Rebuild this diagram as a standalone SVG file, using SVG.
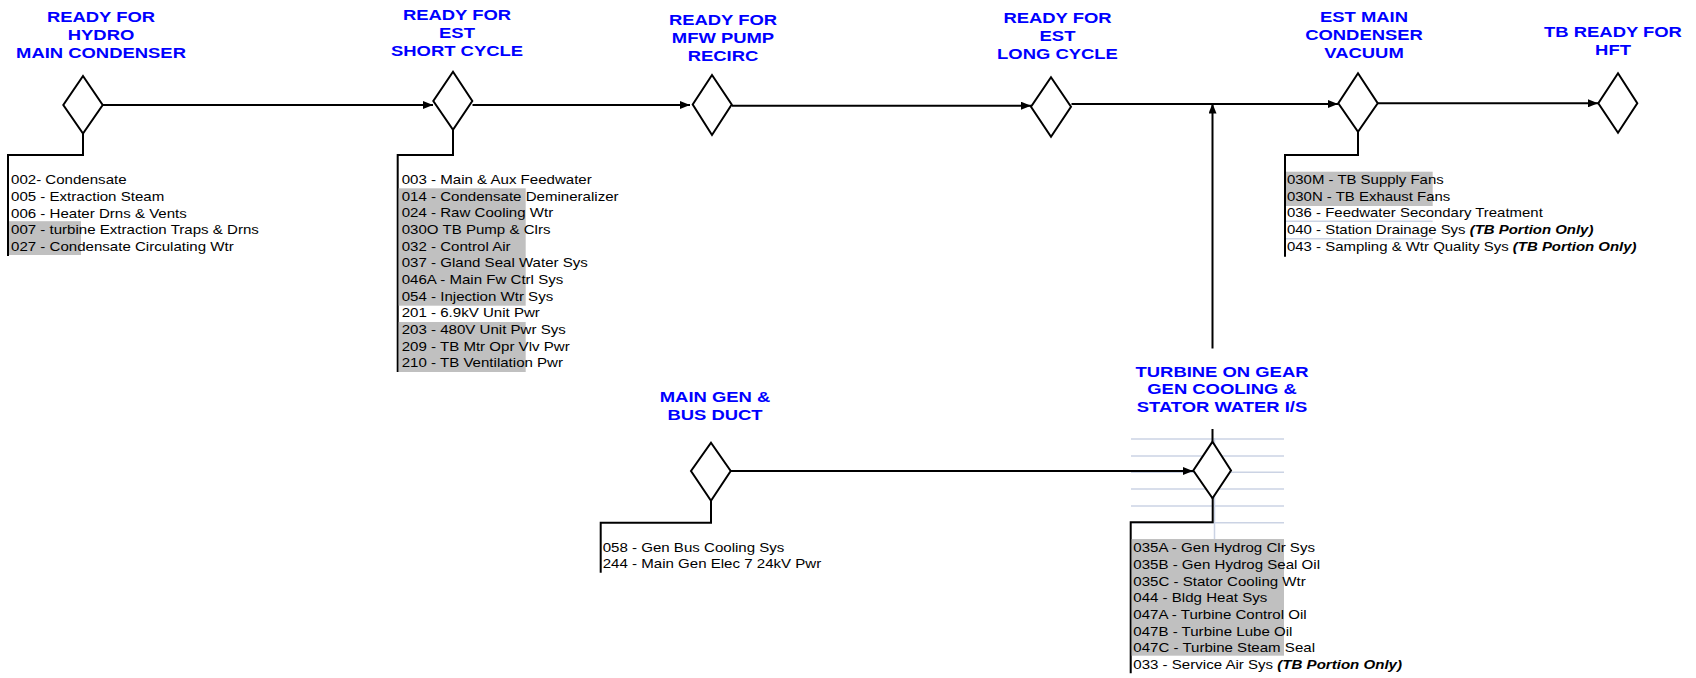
<svg xmlns="http://www.w3.org/2000/svg" width="1696" height="678" viewBox="0 0 1696 678">
<style>
.ttl{font-family:"Liberation Sans",Arial,sans-serif;font-weight:bold;font-size:15.5px;fill:#0000ff;text-anchor:middle}
.lst{font-family:"Liberation Sans",Arial,sans-serif;font-size:13px;fill:#000}
.bi{font-weight:bold;font-style:italic}
.dia{fill:#fff;stroke:#000;stroke-width:2;stroke-linejoin:miter}
.ln{fill:none;stroke:#000;stroke-width:2}
.cell{fill:#c0c0c0}
.grid{stroke:#cbd3e4;stroke-width:1.5}
</style>
<defs>
<marker id="arr" markerWidth="10" markerHeight="8" refX="10" refY="4" orient="auto" markerUnits="userSpaceOnUse"><path d="M0,0 L10,4 L0,8 z" fill="#000"/></marker>
</defs>
<rect x="0" y="0" width="1696" height="678" fill="#fff"/>

<g id="gridlines">
<line class="grid" x1="1286" y1="221.3" x2="1432.7" y2="221.3"/>
<line class="grid" x1="1286" y1="238.7" x2="1432.7" y2="238.7"/>
<line class="grid" x1="1131" y1="439" x2="1284" y2="439"/>
<line class="grid" x1="1131" y1="456" x2="1284" y2="456"/>
<line class="grid" x1="1131" y1="472.3" x2="1284" y2="472.3"/>
<line class="grid" x1="1131" y1="489" x2="1284" y2="489"/>
<line class="grid" x1="1131" y1="506" x2="1284" y2="506"/>
<line class="grid" x1="1131" y1="522.7" x2="1284" y2="522.7"/>
<line class="grid" x1="1214.5" y1="438" x2="1214.5" y2="539"/>
</g>

<g id="connectors">
<path class="ln" d="M103,105 H433" marker-end="url(#arr)"/>
<path class="ln" d="M472.5,105 H690" marker-end="url(#arr)"/>
<path class="ln" d="M732,105.7 H1031" marker-end="url(#arr)"/>
<path class="ln" d="M1071.5,104 H1338" marker-end="url(#arr)"/>
<path class="ln" d="M1378,103.3 H1598" marker-end="url(#arr)"/>
<path class="ln" d="M731,471 H1193" marker-end="url(#arr)"/>
<path class="ln" d="M1212.5,441.7 V103.5" marker-end="url(#arr)"/>
<path class="ln" d="M83,133.5 V155 H8 V256"/>
<path class="ln" d="M453,130 V155 H397.7 V372"/>
<path class="ln" d="M711,501 V522.7 H600.7 V572.7"/>
<path class="ln" d="M1358,132 V155 H1285 V256.7"/>
<path class="ln" d="M1212.7,498 V522.3 H1130.7 V673.3"/>
</g>

<g id="node-hydro">
<g transform="translate(101,0) scale(1.19,1)">
<text class="ttl" x="0" y="21.7">READY FOR</text>
<text class="ttl" x="0" y="40">HYDRO</text>
<text class="ttl" x="0" y="57.7">MAIN CONDENSER</text>
</g>
<polygon class="dia" points="83,76 102.7,105 83,133.5 63.3,105"/>
<rect class="cell" x="9" y="221.2" width="72" height="33.8"/>
<g transform="translate(11,0) scale(1.16,1)">
<text class="lst" x="0" y="184.3">002- Condensate</text>
<text class="lst" x="0" y="201">005 - Extraction Steam</text>
<text class="lst" x="0" y="217.6">006 - Heater Drns &amp; Vents</text>
<text class="lst" x="0" y="234.2">007 - turbine Extraction Traps &amp; Drns</text>
<text class="lst" x="0" y="250.8">027 - Condensate Circulating Wtr</text>
</g>
</g>

<g id="node-short-cycle">
<g transform="translate(457,0) scale(1.19,1)">
<text class="ttl" x="0" y="20">READY FOR</text>
<text class="ttl" x="0" y="37.8">EST</text>
<text class="ttl" x="0" y="56">SHORT CYCLE</text>
</g>
<polygon class="dia" points="453,71.7 472.3,101 453,129.8 433.3,101"/>
<rect class="cell" x="398.7" y="188.3" width="127" height="117.4"/>
<rect class="cell" x="398.7" y="322" width="127" height="50"/>
<g transform="translate(401.7,0) scale(1.16,1)">
<text class="lst" x="0" y="184">003 - Main &amp; Aux Feedwater</text>
<text class="lst" x="0" y="200.7">014 - Condensate Demineralizer</text>
<text class="lst" x="0" y="217.3">024 - Raw Cooling Wtr</text>
<text class="lst" x="0" y="234">030O TB Pump &amp; Clrs</text>
<text class="lst" x="0" y="250.6">032 - Control Air</text>
<text class="lst" x="0" y="267.3">037 - Gland Seal Water Sys</text>
<text class="lst" x="0" y="284">046A - Main Fw Ctrl Sys</text>
<text class="lst" x="0" y="300.6">054 - Injection Wtr Sys</text>
<text class="lst" x="0" y="317.3">201 - 6.9kV Unit Pwr</text>
<text class="lst" x="0" y="334">203 - 480V Unit Pwr Sys</text>
<text class="lst" x="0" y="350.6">209 - TB Mtr Opr Vlv Pwr</text>
<text class="lst" x="0" y="367.3">210 - TB Ventilation Pwr</text>
</g>
</g>

<g id="node-mfw-pump">
<g transform="translate(723,0) scale(1.19,1)">
<text class="ttl" x="0" y="25">READY FOR</text>
<text class="ttl" x="0" y="43">MFW PUMP</text>
<text class="ttl" x="0" y="61.3">RECIRC</text>
</g>
<polygon class="dia" points="712,75 731.7,104.5 712,135 692.7,104.5"/>
</g>

<g id="node-long-cycle">
<g transform="translate(1057.5,0) scale(1.19,1)">
<text class="ttl" x="0" y="22.7">READY FOR</text>
<text class="ttl" x="0" y="40.7">EST</text>
<text class="ttl" x="0" y="59">LONG CYCLE</text>
</g>
<polygon class="dia" points="1051,77.3 1071,106.8 1051,136.7 1031,106.8"/>
</g>

<g id="node-vacuum">
<g transform="translate(1364,0) scale(1.19,1)">
<text class="ttl" x="0" y="21.7">EST MAIN</text>
<text class="ttl" x="0" y="40">CONDENSER</text>
<text class="ttl" x="0" y="57.7">VACUUM</text>
</g>
<polygon class="dia" points="1358,73.3 1377.7,103.3 1358,131.7 1338.3,103.3"/>
<rect class="cell" x="1286" y="171.7" width="146.7" height="34.3"/>
<g transform="translate(1287,0) scale(1.15,1)">
<text class="lst" x="0" y="184">030M - TB Supply Fans</text>
<text class="lst" x="0" y="200.7">030N - TB Exhaust Fans</text>
<text class="lst" x="0" y="217.3">036 - Feedwater Secondary Treatment</text>
<text class="lst" x="0" y="234.5">040 - Station Drainage Sys <tspan class="bi">(TB Portion Only)</tspan></text>
<text class="lst" x="0" y="251.2">043 - Sampling &amp; Wtr Quality Sys <tspan class="bi">(TB Portion Only)</tspan></text>
</g>
</g>

<g id="node-hft">
<g transform="translate(1613,0) scale(1.19,1)">
<text class="ttl" x="0" y="36.7">TB READY FOR</text>
<text class="ttl" x="0" y="55">HFT</text>
</g>
<polygon class="dia" points="1618,73.3 1637.3,103.3 1618,132.7 1598.3,103.3"/>
</g>

<g id="node-main-gen">
<g transform="translate(715,0) scale(1.19,1)">
<text class="ttl" x="0" y="402.3">MAIN GEN &amp;</text>
<text class="ttl" x="0" y="420">BUS DUCT</text>
</g>
<polygon class="dia" points="711,442.7 730.7,471 711,500.7 691,471"/>
<g transform="translate(602.7,0) scale(1.16,1)">
<text class="lst" x="0" y="552">058 - Gen Bus Cooling Sys</text>
<text class="lst" x="0" y="568">244 - Main Gen Elec 7 24kV Pwr</text>
</g>
</g>

<g id="node-turbine-gear">
<rect x="1131" y="348.5" width="180" height="80.5" fill="#fff"/>
<g transform="translate(1222,0) scale(1.19,1)">
<text class="ttl" x="0" y="376.7">TURBINE ON GEAR</text>
<text class="ttl" x="0" y="394.3">GEN COOLING &amp;</text>
<text class="ttl" x="0" y="412.3">STATOR WATER I/S</text>
</g>
<polygon class="dia" points="1212.5,441.7 1231,470.5 1212.5,498.3 1193.3,470.5"/>
<rect class="cell" x="1131.7" y="539" width="152.3" height="116.7"/>
<g transform="translate(1133.3,0) scale(1.16,1)">
<text class="lst" x="0" y="552.3">035A - Gen Hydrog Clr Sys</text>
<text class="lst" x="0" y="569">035B - Gen Hydrog Seal Oil</text>
<text class="lst" x="0" y="585.6">035C - Stator Cooling Wtr</text>
<text class="lst" x="0" y="602.3">044 - Bldg Heat Sys</text>
<text class="lst" x="0" y="618.9">047A - Turbine Control Oil</text>
<text class="lst" x="0" y="635.6">047B - Turbine Lube Oil</text>
<text class="lst" x="0" y="652.2">047C - Turbine Steam Seal</text>
<text class="lst" x="0" y="668.9">033 - Service Air Sys <tspan class="bi">(TB Portion Only)</tspan></text>
</g>
</g>
</svg>
